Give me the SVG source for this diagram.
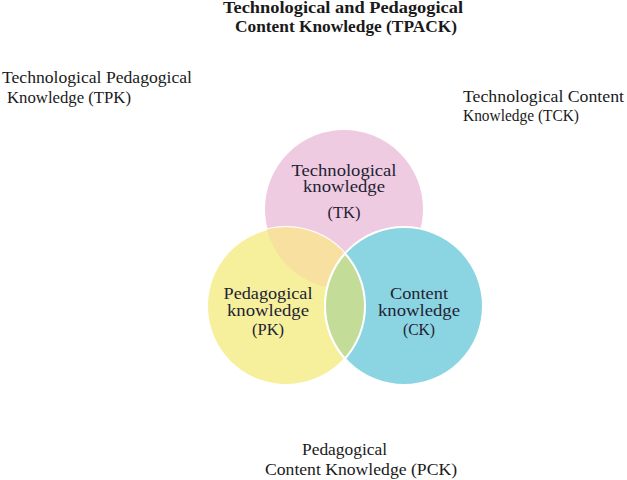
<svg xmlns="http://www.w3.org/2000/svg" width="627" height="480" viewBox="0 0 627 480">
<style>
.t{font-family:"Liberation Serif","DejaVu Serif",serif;fill:#1a1a1a;}
.lbl{font-size:16px;}
.ttl{font-size:16px;font-weight:bold;}
.c{font-size:16px;text-anchor:middle;fill:#222233;}
.ring{stroke:#ffffff;stroke-width:2;}
</style>
<defs>
<clipPath id="clipPK"><circle cx="286" cy="306" r="79"/></clipPath>
<clipPath id="clipCK"><circle cx="404" cy="306" r="79"/></clipPath>
</defs>
<rect width="627" height="480" fill="#ffffff"/>
<g id="connectors"></g>
<g id="title">
<text class="t ttl" x="223" y="13" textLength="240" lengthAdjust="spacingAndGlyphs">Technological and Pedagogical</text>
<text class="t ttl" x="235" y="32" textLength="222" lengthAdjust="spacingAndGlyphs">Content Knowledge (TPACK)</text>
</g>
<g id="tpk">
<text class="t lbl" x="2" y="83" textLength="190" lengthAdjust="spacingAndGlyphs">Technological Pedagogical</text>
<text class="t lbl" x="7" y="103" textLength="124" lengthAdjust="spacingAndGlyphs">Knowledge (TPK)</text>
</g>
<g id="tck">
<text class="t lbl" x="463" y="102" textLength="161" lengthAdjust="spacingAndGlyphs">Technological Content</text>
<text class="t lbl" x="463" y="121" textLength="116" lengthAdjust="spacingAndGlyphs">Knowledge (TCK)</text>
</g>
<g id="pck">
<text class="t lbl" x="302" y="455" textLength="85" lengthAdjust="spacingAndGlyphs">Pedagogical</text>
<text class="t lbl" x="265" y="475" textLength="192" lengthAdjust="spacingAndGlyphs">Content Knowledge (PCK)</text>
</g>
<g id="tk">
<circle class="ring" cx="344" cy="209" r="80" fill="#efcbe1"/>
</g>
<g id="pk">
<circle class="ring" cx="286" cy="306" r="79" fill="#f6f09c"/>
<circle cx="344" cy="209" r="80" fill="#f7e0a0" clip-path="url(#clipPK)"/>
</g>
<g id="ck">
<circle class="ring" cx="404" cy="306" r="79" fill="#8bd4e2"/>
<circle class="ring" cx="286" cy="306" r="79" fill="#c3dd98" clip-path="url(#clipCK)"/>
<circle cx="404" cy="306" r="79" fill="none" stroke="#ffffff" stroke-width="2" clip-path="url(#clipPK)"/>
</g>
<g id="tk-label">
<text class="t c" x="344" y="176" textLength="105" lengthAdjust="spacingAndGlyphs">Technological</text>
<text class="t c" x="344" y="192" textLength="82" lengthAdjust="spacingAndGlyphs">knowledge</text>
<text class="t c" x="344" y="218" textLength="33" lengthAdjust="spacingAndGlyphs">(TK)</text>
</g>
<g id="pk-label">
<text class="t c" x="268" y="299" textLength="89" lengthAdjust="spacingAndGlyphs">Pedagogical</text>
<text class="t c" x="268" y="316" textLength="82" lengthAdjust="spacingAndGlyphs">knowledge</text>
<text class="t c" x="268" y="335" textLength="32" lengthAdjust="spacingAndGlyphs">(PK)</text>
</g>
<g id="ck-label">
<text class="t c" x="419" y="299" textLength="58" lengthAdjust="spacingAndGlyphs">Content</text>
<text class="t c" x="419" y="316" textLength="82" lengthAdjust="spacingAndGlyphs">knowledge</text>
<text class="t c" x="419" y="335" textLength="32" lengthAdjust="spacingAndGlyphs">(CK)</text>
</g>
</svg>
